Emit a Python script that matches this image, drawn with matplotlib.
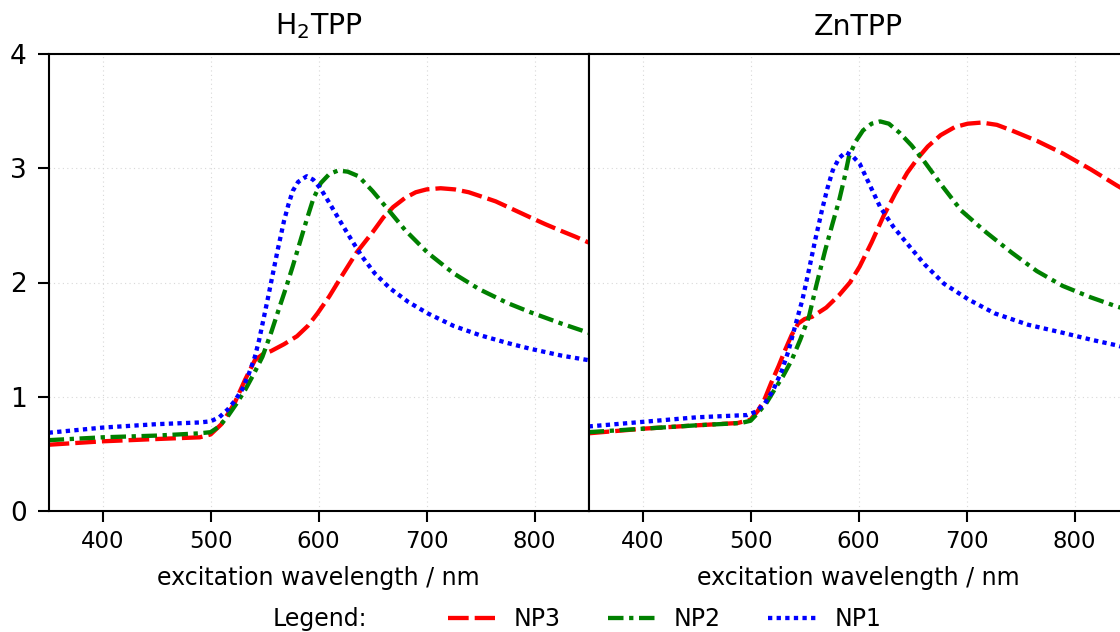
import matplotlib
matplotlib.use("Agg")
import matplotlib.pyplot as plt
from matplotlib.lines import Line2D

# ---------------- data ----------------
titles = ["H$_2$TPP", "ZnTPP"]
series_names = ["NP3", "NP2", "NP1"]

# H2TPP panel
h2_np3_x = [350, 400, 450, 490, 500, 510, 522, 532, 541, 548, 556, 568, 580, 590, 599, 610, 621,
            635, 650, 660, 669, 680, 690, 700, 713, 726, 739, 750, 764, 780, 796, 810, 825, 838, 850]
h2_np3_y = [0.58, 0.61, 0.63, 0.645, 0.67, 0.76, 0.94, 1.15, 1.32, 1.37, 1.40, 1.46, 1.53, 1.62, 1.73,
            1.88, 2.05, 2.26, 2.44, 2.57, 2.66, 2.74, 2.79, 2.815, 2.825, 2.815, 2.79, 2.755, 2.71,
            2.64, 2.57, 2.51, 2.45, 2.40, 2.35]
h2_np2_x = [350, 400, 450, 490, 500, 508, 516, 524, 532, 540, 548, 556, 564, 570, 576, 582, 589,
            595, 602, 610, 618, 627, 637, 650, 666, 680, 701, 725, 749, 775, 796, 825, 850]
h2_np2_y = [0.62, 0.645, 0.66, 0.68, 0.69, 0.74, 0.83, 0.94, 1.06, 1.2, 1.35, 1.56, 1.79, 1.96, 2.14,
            2.33, 2.55, 2.73, 2.87, 2.95, 2.98, 2.97, 2.93, 2.80, 2.62, 2.46, 2.26, 2.08, 1.94, 1.82,
            1.74, 1.64, 1.56]
h2_np1_x = [350, 400, 450, 490, 500, 508, 516, 522, 529, 535, 541, 545, 549, 553, 556, 562, 568,
            572, 576, 581, 589, 595, 602, 611, 621, 630, 640, 652, 666, 683, 701, 725, 749, 775,
            796, 825, 850]
h2_np1_y = [0.685, 0.73, 0.76, 0.775, 0.785, 0.82, 0.89, 0.96, 1.06, 1.19, 1.35, 1.5, 1.68, 1.86,
            2.0, 2.28, 2.54, 2.68, 2.8, 2.88, 2.93, 2.9, 2.82, 2.68, 2.52, 2.38, 2.23, 2.08, 1.95,
            1.83, 1.73, 1.62, 1.54, 1.47, 1.42, 1.36, 1.32]

# ZnTPP panel
zn_np3_x = [350, 400, 450, 488, 500, 507, 513, 519, 526, 532, 538, 544, 550, 557, 570, 582, 592,
            601, 612, 623, 634, 645, 655, 664, 676, 689, 701, 714, 728, 742, 765, 789, 815, 839, 850]
zn_np3_y = [0.68, 0.72, 0.75, 0.77, 0.8, 0.88, 0.98, 1.12, 1.27, 1.41, 1.54, 1.64, 1.68, 1.70,
            1.78, 1.89, 2.0, 2.14, 2.35, 2.58, 2.78, 2.96, 3.09, 3.19, 3.29, 3.36, 3.39, 3.4, 3.38,
            3.33, 3.24, 3.13, 2.99, 2.85, 2.79]
zn_np2_x = [350, 400, 450, 491, 500, 507, 515, 522, 530, 538, 546, 554, 561, 569, 576, 582, 587,
            591, 597, 604, 612, 620, 628, 638, 649, 660, 677, 695, 718, 742, 765, 789, 815, 839, 850]
zn_np2_y = [0.69, 0.72, 0.75, 0.77, 0.79, 0.86, 0.95, 1.06, 1.18, 1.32, 1.5, 1.70, 1.98, 2.28,
            2.52, 2.72, 2.92, 3.1, 3.23, 3.33, 3.39, 3.41, 3.39, 3.31, 3.2, 3.07, 2.85, 2.63, 2.44,
            2.26, 2.1, 1.97, 1.87, 1.79, 1.76]
zn_np1_x = [350, 400, 450, 497, 505, 513, 521, 529, 535, 541, 548, 554, 560, 566, 571, 576, 582,
            588, 594, 601, 610, 620, 632, 645, 661, 679, 702, 726, 757, 789, 815, 839, 850]
zn_np1_y = [0.74, 0.78, 0.82, 0.84, 0.87, 0.94, 1.06, 1.23, 1.4, 1.61, 1.85, 2.11, 2.38, 2.63,
            2.82, 2.98, 3.09, 3.14, 3.11, 3.04, 2.86, 2.66, 2.49, 2.34, 2.16, 1.99, 1.85, 1.73,
            1.63, 1.56, 1.5, 1.45, 1.42]

xticks = [400, 500, 600, 700, 800]
yticks = [0, 1, 2, 3, 4]

# ---------------- styling ----------------
colors = ["red", "green", "blue"]
styles = [(0, (4.8, 1.4)), (0, (3.6, 1.3, 1.0, 1.3)), (0, (1.0, 1.0))]
LW = 3.1

fig = plt.figure(figsize=(11.2, 6.32), dpi=100)
W, H = 1120, 632
x0, x1, xr = 48.6, 588.6, 1128.6
ytop, ybot = 54, 511
axL = fig.add_axes([x0 / W, 1 - ybot / H, (x1 - x0) / W, (ybot - ytop) / H])
axR = fig.add_axes([x1 / W, 1 - ybot / H, (xr - x1) / W, (ybot - ytop) / H], sharey=axL)

panels = [
    (axL, [(h2_np3_x, h2_np3_y), (h2_np2_x, h2_np2_y), (h2_np1_x, h2_np1_y)]),
    (axR, [(zn_np3_x, zn_np3_y), (zn_np2_x, zn_np2_y), (zn_np1_x, zn_np1_y)]),
]

for (ax, data), title in zip(panels, titles):
    for (xs, ys), c, ls in zip(data, colors, styles):
        ax.plot(xs, ys, color=c, linestyle=ls, lw=LW, dash_capstyle="butt")
    ax.set_xlim(350, 850)
    ax.set_ylim(0, 4)
    ax.set_xticks(xticks)
    ax.set_yticks(yticks)
    ax.grid(True, color="#d8d8d8", linestyle=(0, (1, 3)), linewidth=0.8)
    ax.set_axisbelow(True)
    for sp in ax.spines.values():
        sp.set_linewidth(1.5)
    ax.tick_params(axis="x", direction="out", length=7.7, width=1.5, labelsize=16.5, pad=6.2)
    ax.tick_params(axis="y", direction="out", length=7.7, width=1.5, labelsize=19, pad=8)
    ax.set_xlabel("excitation wavelength / nm", fontsize=17, labelpad=9)
    ax.set_title(title, fontsize=20.5, pad=14)

axR.tick_params(axis="y", left=False, labelleft=False)
axR.spines["right"].set_visible(False)

handles = [Line2D([], [], color=c, linestyle=ls, lw=LW, dash_capstyle="butt")
           for c, ls in zip(colors, styles)]
fig.text(320 / W, 1 - 619 / H, "Legend:", fontsize=17, ha="center", va="center")
fig.legend(handles, series_names, loc="center", bbox_to_anchor=(664.5 / W, 1 - 619 / H),
           ncol=3, frameon=False, fontsize=17, handlelength=2.0, handletextpad=0.8,
           columnspacing=2.0)

fig.savefig("out.png", dpi=100)
